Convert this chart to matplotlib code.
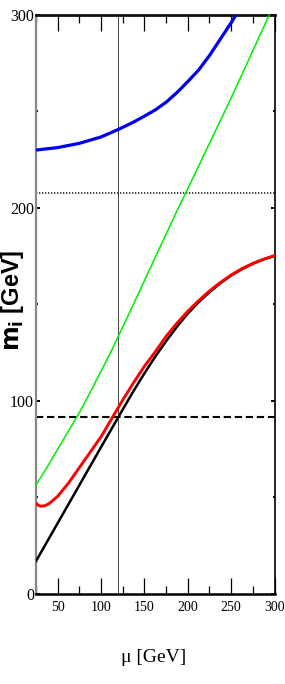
import matplotlib
matplotlib.use("Agg")
import matplotlib.pyplot as plt
from matplotlib.ticker import MultipleLocator, FixedLocator

# ---- data ----
mu_black = [25, 50, 75, 100, 125, 137.5, 150, 162.5, 175, 187.5, 200, 212.5,
            225, 237.5, 250, 262.5, 275, 287.5, 300]
m_black = [17, 36.7, 56.4, 76.1, 95.6, 105.2, 114.3, 123, 131, 138.5, 145.3,
           151.2, 156.4, 161, 165, 168.3, 171.1, 173.4, 175.2]

mu_red = [25, 27.5, 30, 35, 40, 50, 62.5, 75, 87.5, 100, 112.5, 125, 137.5,
          150, 162.5, 175, 187.5, 200, 212.5, 225, 237.5, 250, 262.5, 275,
          287.5, 300]
m_red = [47, 46, 45.5, 45.7, 46.8, 50.6, 57.5, 65.5, 73.5, 81.5, 91, 100.5,
         109.5, 118, 125.5, 133.5, 140.3, 146.5, 152, 157, 161.4, 165.3,
         168.6, 171.3, 173.5, 175.3]

mu_green = [25, 37.5, 50, 62.5, 75, 87.5, 100, 112.5, 125, 137.5, 150, 162.5,
            175, 187.5, 200, 225, 250, 275, 300]
m_green = [56.5, 65.5, 75, 84.5, 94, 104.5, 115.5, 126.5, 138.3, 150.3, 162.3,
           174.5, 186.5, 198.5, 210, 233.5, 257, 281.5, 306]

mu_blue = [25, 50, 75, 100, 120, 137.5, 150, 162.5, 175, 187.5, 200, 212.5,
           225, 237.5, 250, 262.5]
m_blue = [230, 231.3, 233.5, 236.8, 240.7, 244.5, 247.6, 250.8, 254.8, 259.8,
          265.5, 271.5, 279, 287.5, 296, 305]

m_dashed = 91.5
m_dotted = 208
mu_vline = 120

x_ticks = [50, 100, 150, 200, 250, 300]
y_ticks = [0, 100, 200, 300]

# ---- figure ----
fig = plt.figure(figsize=(2.85, 6.84), dpi=100)
ax = fig.add_axes([0.1263, 0.1316, 0.8370, 0.8465])

ax.plot(mu_blue, m_blue, color="#0000ee", lw=2.3, solid_capstyle="butt", zorder=3)
ax.plot(mu_green, m_green, color="#00ee00", lw=1.1, zorder=3)
ax.plot(mu_black, m_black, color="black", lw=1.8, zorder=3)
ax.plot(mu_red, m_red, color="#ff0000", lw=2.1, zorder=4)

ax.axhline(m_dashed, color="black", lw=1.5, ls=(0, (3.5, 1.8)), zorder=2)
ax.axhline(m_dotted, color="#222222", lw=1.2, ls=(0, (0.8, 1.0)), zorder=2)
ax.axvline(mu_vline, color="#444444", lw=0.7, zorder=2)

ax.set_xlim(25, 300)
ax.set_ylim(0, 300)

ax.xaxis.set_major_locator(FixedLocator(x_ticks))
ax.xaxis.set_minor_locator(MultipleLocator(25))
ax.yaxis.set_major_locator(FixedLocator(y_ticks))
ax.yaxis.set_minor_locator(MultipleLocator(50))

serif = ["Liberation Serif", "DejaVu Serif"]
ax.tick_params(axis="x", which="major", direction="in", length=11.5, width=0.9,
               top=True, bottom=True, pad=5, labelsize=10)
ax.tick_params(axis="x", which="minor", direction="in", length=5.8, width=0.9,
               top=True, bottom=True)
ax.tick_params(axis="y", which="major", direction="in", length=3.0, width=1.4,
               left=True, right=True, pad=1.5, labelsize=11.5)
ax.tick_params(axis="y", which="minor", direction="in", length=1.2, width=1.4,
               left=True, right=True)
for lab in ax.get_xticklabels() + ax.get_yticklabels():
    lab.set_family(serif)

ax.spines["left"].set_color("#888888")
ax.spines["left"].set_linewidth(1.6)
ax.spines["top"].set_linewidth(2.0)
ax.spines["top"].set_color("#111111")
ax.spines["bottom"].set_linewidth(1.8)
ax.spines["right"].set_linewidth(1.2)

ax.set_xlabel("μ [GeV]", family=serif, fontsize=14)
ax.xaxis.set_label_coords(0.495, -0.109)
ax.xaxis.label.set_va("center")
ax.set_ylabel(r"$\mathbf{m_i}$ [GeV]", family=["Liberation Sans", "DejaVu Sans"],
              fontweight="bold", fontsize=17)
ax.yaxis.set_label_coords(-0.1, 0.508)
ax.yaxis.label.set_va("center")

fig.savefig("out.png", dpi=100)
